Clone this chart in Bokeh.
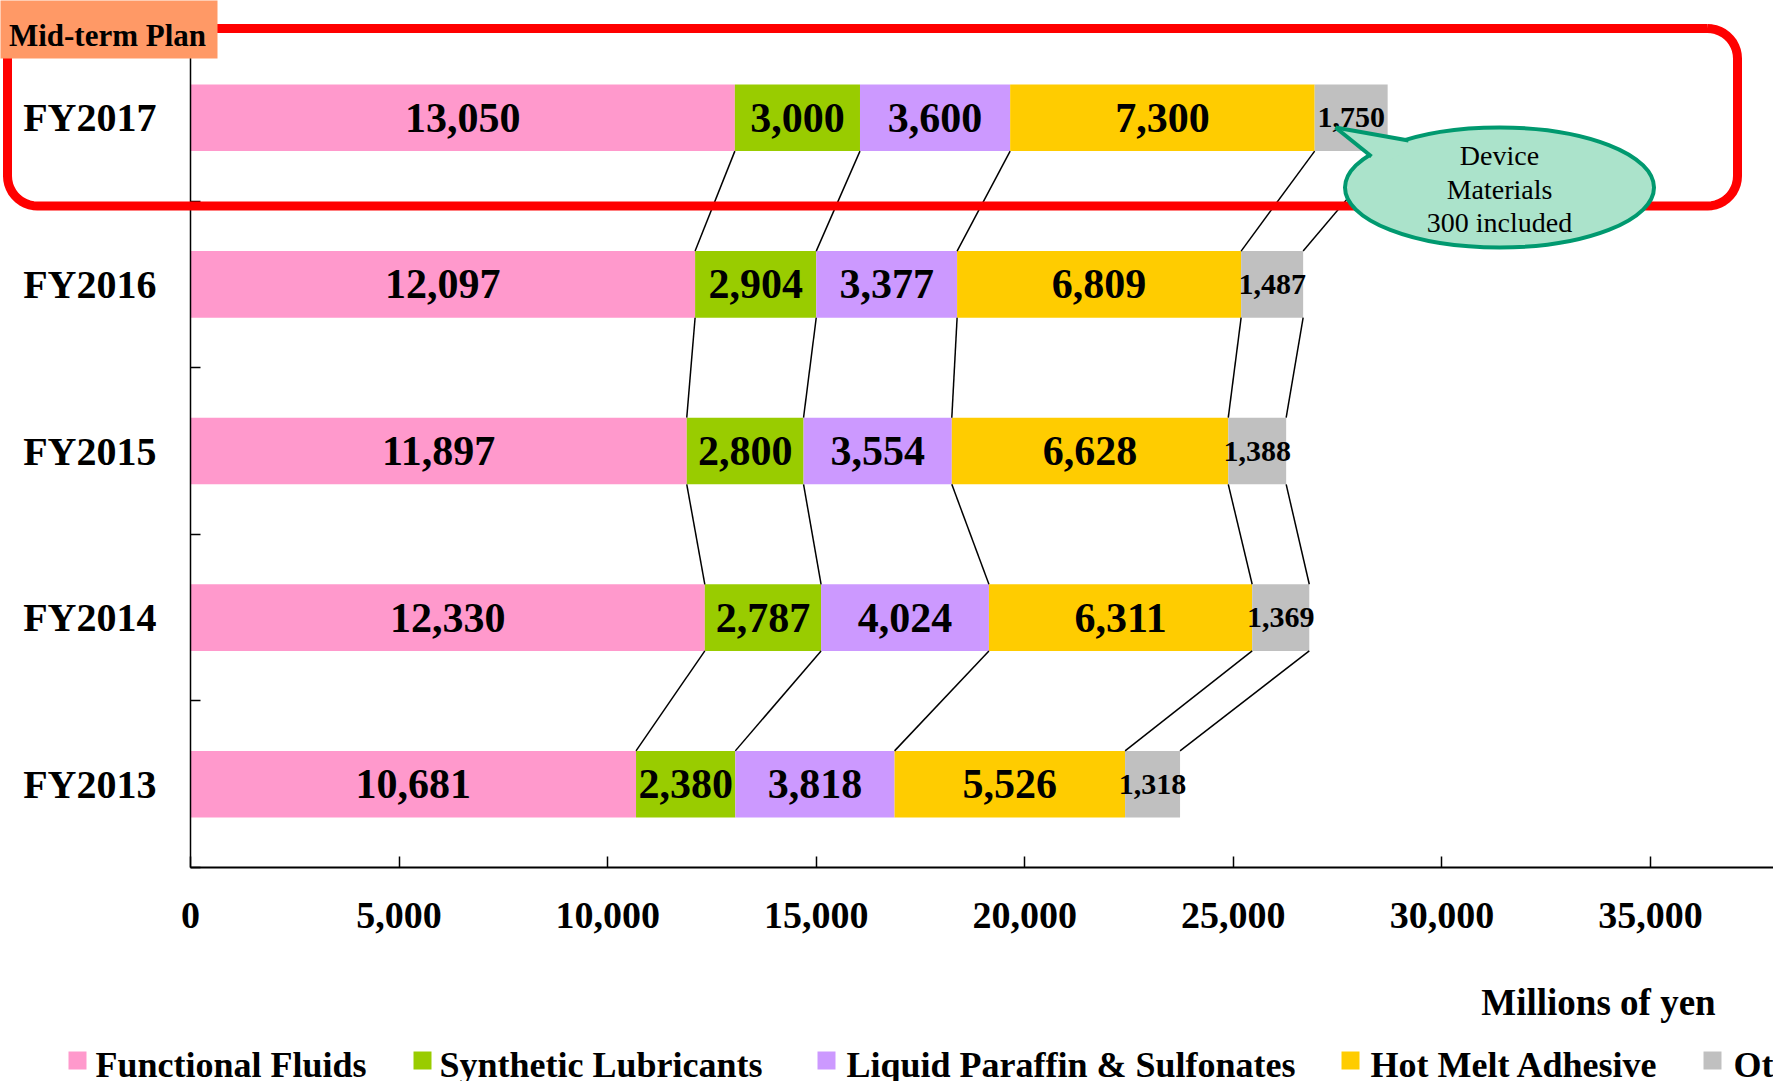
import numpy as np
from bokeh.plotting import figure
from bokeh.models import Range1d, FixedTicker, NumeralTickFormatter, ColumnDataSource
from bokeh.core.properties import value
from bokeh.embed import file_html
from bokeh.resources import INLINE

# ---------------- data ----------------
years = ["FY2017", "FY2016", "FY2015", "FY2014", "FY2013"]
series_names = ["Functional Fluids", "Synthetic Lubricants",
                "Liquid Paraffin & Sulfonates", "Hot Melt Adhesive", "Others"]
functional_fluids = [13050, 12097, 11897, 12330, 10681]
synthetic_lubricants = [3000, 2904, 2800, 2787, 2380]
liquid_paraffin = [3600, 3377, 3554, 4024, 3818]
hot_melt_adhesive = [7300, 6809, 6628, 6311, 5526]
others = [1750, 1487, 1388, 1369, 1318]
x_ticks = [0, 5000, 10000, 15000, 20000, 25000, 30000, 35000]
colors = ["#FF99CC", "#99CC00", "#CC99FF", "#FFCC00", "#C0C0C0"]
callout_lines = ["Device", "Materials", "300 included"]

series = [functional_fluids, synthetic_lubricants, liquid_paraffin, hot_melt_adhesive, others]
keys = ["ff", "sl", "lp", "hm", "ot"]

# ---------------- layout ----------------
W, H = 1773, 1081
FL, FR, FT, FB = 190, 1773, 34, 867       # frame edges in px
XMAX = 37950
NY = len(years)
BAR_H = 0.4
FONT = "Liberation Serif"
LEGEND_SWATCH_X = [68, 413, 817, 1341, 1703]   # legend item positions (px)
LEGEND_TEXT_X = [95, 439, 846, 1370, 1733]


def px_x(px):
    return (px - FL) / (FR - FL) * XMAX


def px_y(py):
    return NY * (FB - py) / (FB - FT)


ypos = [NY - 0.5 - i for i in range(NY)]

src = dict(y=ypos)
for k, s in zip(keys, series):
    src[k] = s
source = ColumnDataSource(src)

p = figure(width=W, height=H, x_range=Range1d(0, XMAX), y_range=Range1d(0, NY),
           output_backend="svg", toolbar_location=None,
           min_border_left=FL, min_border_right=0, min_border_top=FT,
           min_border_bottom=H - FB)
p.outline_line_color = None
p.xgrid.visible = False
p.ygrid.visible = False
p.background_fill_color = "white"
p.border_fill_color = "white"

bars = p.hbar_stack(keys, y="y", height=BAR_H, fill_color=colors, line_color=None,
                    source=source)

# cumulative boundaries
cums = []
for i in range(NY):
    c = []
    acc = 0
    for s in series:
        acc += s[i]
        c.append(acc)
    cums.append(c)

# connecting lines between consecutive years
x0, y0, x1, y1 = [], [], [], []
for i in range(NY - 1):
    for k in range(len(series)):
        x0.append(cums[i][k])
        y0.append(ypos[i] - BAR_H / 2)
        x1.append(cums[i + 1][k])
        y1.append(ypos[i + 1] + BAR_H / 2)
p.segment(x0=x0, y0=y0, x1=x1, y1=y1, line_color="black", line_width=1.5)

# bar value labels
big_x, big_y, big_t, sm_x, sm_y, sm_t = [], [], [], [], [], []
for i in range(NY):
    left = 0
    for k, s in enumerate(series):
        v = s[i]
        cx = left + v / 2
        if k < len(series) - 1:
            big_x.append(cx); big_y.append(ypos[i]); big_t.append(f"{v:,}")
        else:
            sm_x.append(cx); sm_y.append(ypos[i]); sm_t.append(f"{v:,}")
        left += v
p.text(x=big_x, y=big_y, text=big_t, text_font=value(FONT), text_font_style="bold",
       text_font_size="42px", text_align="center", text_baseline="middle", text_color="black")
p.text(x=sm_x, y=sm_y, text=sm_t, text_font=value(FONT), text_font_style="bold",
       text_font_size="30px", text_align="center", text_baseline="middle", text_color="black")

# ---------------- axes ----------------
xa = p.xaxis[0]
xa.ticker = FixedTicker(ticks=x_ticks)
xa.formatter = NumeralTickFormatter(format="0,0")
xa.major_tick_in = 11
xa.major_tick_out = 0
xa.minor_tick_line_color = None
xa.axis_line_width = 2
xa.major_tick_line_width = 1.5
xa.major_label_text_font = FONT
xa.major_label_text_font_style = "bold"
xa.major_label_text_font_size = "38px"
xa.major_label_text_color = "black"
xa.major_label_standoff = 35

ya = p.yaxis[0]
ya.ticker = FixedTicker(ticks=ypos, minor_ticks=[float(i) for i in range(0, NY + 1)])
ya.major_label_overrides = {y: name for y, name in zip(ypos, years)}
ya.major_tick_line_color = None
ya.minor_tick_in = 10
ya.minor_tick_out = 0
ya.minor_tick_line_width = 1.5
ya.axis_line_width = 1.5
ya.major_label_text_font = FONT
ya.major_label_text_font_style = "bold"
ya.major_label_text_font_size = "40px"
ya.major_label_text_color = "black"
ya.major_label_standoff = 28

# ---------------- decorations (overlay glyphs, not clipped) ----------------
def rounded_rect(l, r, t, b, rad, n=12):
    xs, ys = [], []
    corners = [(r - rad, t + rad, -90, 0), (r - rad, b - rad, 0, 90),
               (l + rad, b - rad, 90, 180), (l + rad, t + rad, 180, 270)]
    for cx, cy, a0, a1 in corners:
        for a in np.linspace(np.radians(a0), np.radians(a1), n):
            xs.append(cx + rad * np.cos(a))
            ys.append(cy + rad * np.sin(a))
    xs.append(xs[0]); ys.append(ys[0])
    return [px_x(v) for v in xs], [px_y(v) for v in ys]

rx, ry = rounded_rect(7, 1737, 28, 205.5, 30)
p.line(x=rx, y=ry, line_color="#FF0000", line_width=9, level="overlay")

# "Mid-term Plan" tag
p.quad(left=[px_x(0)], right=[px_x(217)], top=[px_y(0)], bottom=[px_y(58)],
       fill_color="#FF9966", line_color=None, level="overlay")
p.text(x=[px_x(107)], y=[px_y(35)], text=["Mid-term Plan"], text_font=value(FONT),
       text_font_style="bold", text_font_size="31px", text_align="center",
       text_baseline="middle", text_color="black", level="overlay")

# unit label
p.text(x=[px_x(1598)], y=[px_y(1002)], text=["Millions of yen"], text_font=value(FONT),
       text_font_style="bold", text_font_size="37px", text_align="center",
       text_baseline="middle", text_color="black", level="overlay")

# callout bubble
CFILL, CLINE = "#ABE3CB", "#00996F"
ex, ey, ew, eh = 1499, 187, 309, 120
p.ellipse(x=[px_x(ex)], y=[px_y(ey)], width=[ew / (FR - FL) * XMAX],
          height=[eh / (FB - FT) * NY], fill_color=CFILL, line_color=CLINE,
          line_width=4, level="overlay")
tip = (1335, 127)
a_pt, b_pt = (1408, 140), (1371, 156)
a_in, b_in = (1420, 143), (1380, 165)
p.patch(x=[px_x(tip[0]), px_x(a_in[0]), px_x(b_in[0])],
        y=[px_y(tip[1]), px_y(a_in[1]), px_y(b_in[1])],
        fill_color=CFILL, line_color=None, level="overlay")
p.segment(x0=[px_x(tip[0])] * 2, y0=[px_y(tip[1])] * 2,
          x1=[px_x(a_pt[0]), px_x(b_pt[0])], y1=[px_y(a_pt[1]), px_y(b_pt[1])],
          line_color=CLINE, line_width=4, level="overlay")
p.text(x=[px_x(ex)] * 3, y=[px_y(155), px_y(189), px_y(222)], text=callout_lines,
       text_font=value(FONT), text_font_size="28px", text_align="center",
       text_baseline="middle", text_color="black", level="overlay")

# legend (swatches + labels below the axis)
SW = 18
p.quad(left=[px_x(v) for v in LEGEND_SWATCH_X],
       right=[px_x(v + SW) for v in LEGEND_SWATCH_X],
       top=[px_y(1051)] * len(colors), bottom=[px_y(1051 + SW)] * len(colors),
       fill_color=colors, line_color=None, level="overlay")
p.text(x=[px_x(v) for v in LEGEND_TEXT_X], y=[px_y(1064)] * len(series_names),
       text=series_names, text_font=value(FONT), text_font_style="bold",
       text_font_size="36px", text_align="left", text_baseline="middle",
       text_color="black", level="overlay")

open("out.html", "w").write(file_html(p, INLINE))
